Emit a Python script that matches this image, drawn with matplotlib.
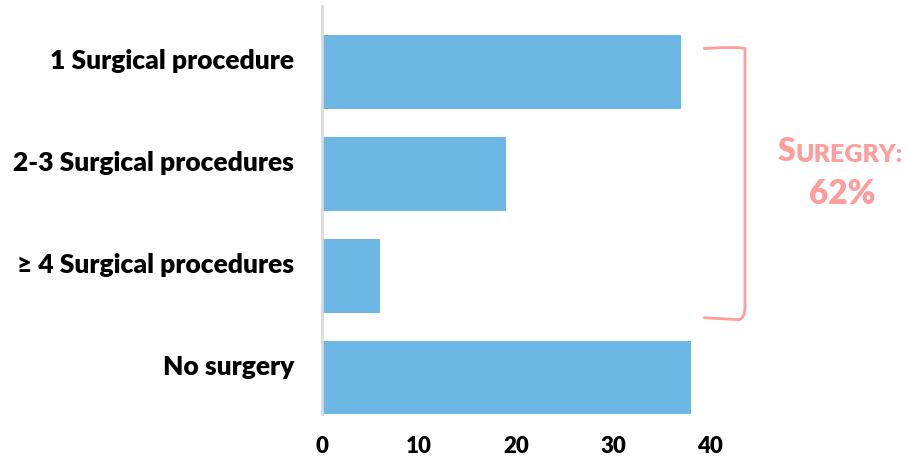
"""
Barras horizontales: número de procedimientos quirúrgicos.
"""
import matplotlib
matplotlib.use("Agg")
import matplotlib.pyplot as plt
import matplotlib.transforms as mtransforms
from matplotlib.path import Path
from matplotlib.patches import PathPatch

# Datos
categorias = ["1 Surgical procedure", "2-3 Surgical procedures",
              "\u2265 4 Surgical procedures", "No surgery"]
valores = [37, 19, 6, 38]
ticks_x = [0, 10, 20, 30, 40]
texto_grupo = ("S", "UREGRY:", "62%")

plt.rcParams['font.family'] = ['Lato', 'DejaVu Sans']

color_barra = '#6DB7E5'
color_rosa = '#FF9C9C'
peso = 'heavy'

fig = plt.figure(figsize=(9.06, 4.58), dpi=100)
ax = fig.add_axes([0.3554, 0.0961, 0.4283, 0.8908])

pos = list(range(len(categorias)))
ax.barh(pos, valores, height=0.725, color=color_barra)

ax.set_xlim(0, 40)
ax.set_ylim(3.355, -0.647)
ax.set_xticks(ticks_x)
ax.set_xticklabels([str(t) for t in ticks_x], fontsize=16, fontweight=peso)
ax.set_yticks(pos)
ax.set_yticklabels(categorias, fontsize=19, fontweight=peso)
ax.tick_params(axis='both', length=0)
ax.tick_params(axis='y', pad=20)
ax.tick_params(axis='x', pad=16)

# Las etiquetas de categoría van un poco por encima del centro de la barra
desplaza = mtransforms.ScaledTranslation(0, 13 / 100, fig.dpi_scale_trans)
for etiqueta in ax.get_yticklabels():
    etiqueta.set_transform(etiqueta.get_transform() + desplaza)

for lado in ['top', 'right', 'bottom']:
    ax.spines[lado].set_visible(False)
ax.spines['left'].set_color('#D9D9D9')
ax.spines['left'].set_linewidth(2)

# Llave del grupo con cirugía (barras 0 a 2)
y_top = pos[0] - 0.23
y_bot = pos[2] + 0.41
x0, x1 = 39.3, 43.6
r = 0.6
verts = [(x0, y_top), (x1 - r, y_top - 0.02), (x1, y_top), (x1, y_top + 0.1),
         (x1, y_bot - 0.1), (x1, y_bot), (x1 - r, y_bot + 0.02), (x0, y_bot)]
codes = [Path.MOVETO, Path.CURVE3, Path.CURVE3, Path.LINETO,
         Path.LINETO, Path.CURVE3, Path.CURVE3, Path.LINETO]
ax.add_patch(PathPatch(Path(verts, codes), fill=False, edgecolor=color_rosa,
                       linewidth=2, clip_on=False))

# Texto en versalitas
t1 = ax.text(47.0, 0.87, texto_grupo[0], fontsize=23, fontweight=peso,
             color=color_rosa, va='baseline', ha='left', clip_on=False)
ax.annotate(texto_grupo[1], xy=(1, 0), xycoords=t1, fontsize=18,
            fontweight=peso, color=color_rosa, va='bottom', ha='left')
ax.text(53.6, 1.3, texto_grupo[2], fontsize=24, fontweight=peso,
        color=color_rosa, va='baseline', ha='center', clip_on=False)

fig.savefig("out.png", dpi=100)
